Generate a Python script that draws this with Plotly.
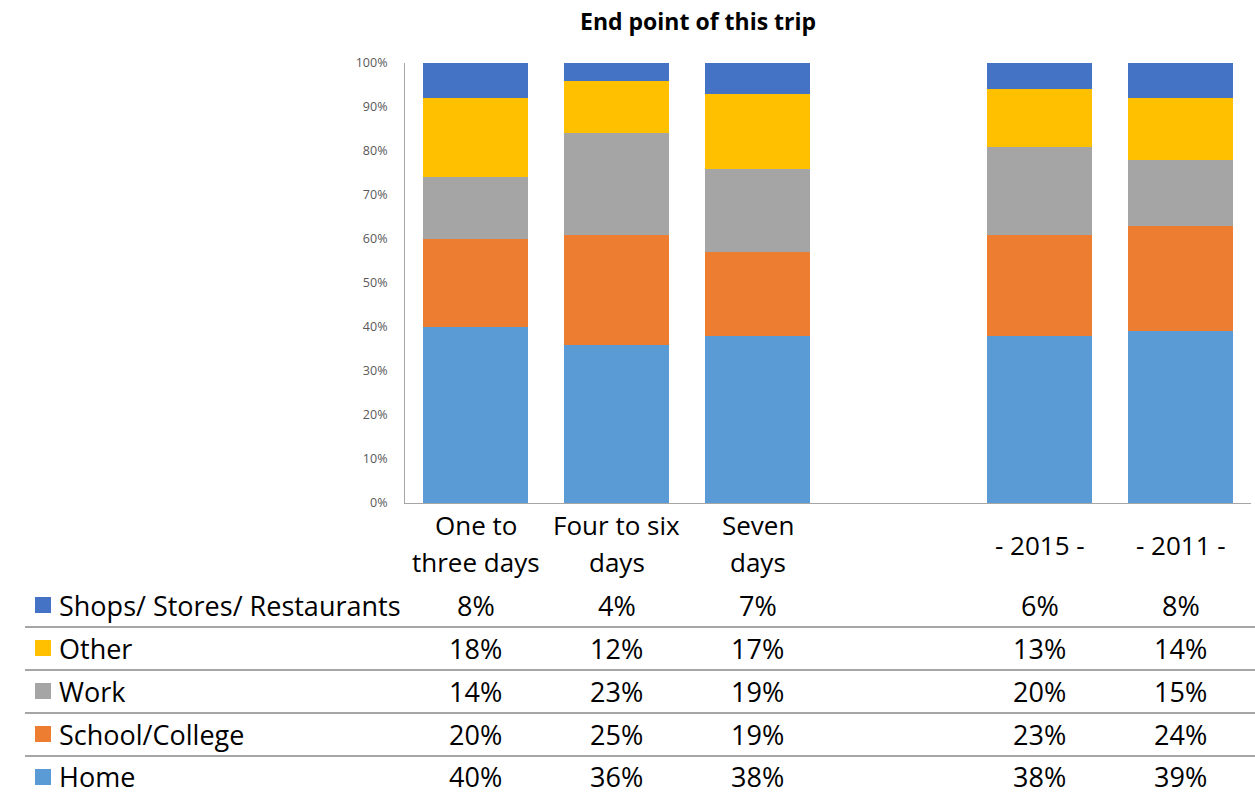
import plotly.graph_objects as go

# Trip end-point shares by category
categories = ["One to three days", "Four to six days", "Seven days", "gap", "- 2015 -", "- 2011 -"]
header_lines = [["One to", "three days"], ["Four to six", "days"], ["Seven", "days"], [], ["- 2015 -"], ["- 2011 -"]]

series_names = ["Home", "School/College", "Work", "Other", "Shops/ Stores/ Restaurants"]
home = [40, 36, 38, None, 38, 39]
school = [20, 25, 19, None, 23, 24]
work = [14, 23, 19, None, 20, 15]
other = [18, 12, 17, None, 13, 14]
shops = [8, 4, 7, None, 6, 8]
series_colors = ["#5B9BD5", "#ED7D31", "#A5A5A5", "#FFC000", "#4472C4"]

y_ticks = [0, 10, 20, 30, 40, 50, 60, 70, 80, 90, 100]

W, H = 1255, 803
L, R, T, B = 405, 4, 63, 300
PW, PH = W - L - R, H - T - B


def px(x):
    return (x - L) / PW


def py(y):
    return (H - B - y) / PH


FONT = "Open Sans"
all_series = [home, school, work, other, shops]

fig = go.Figure()
for name, vals, col in zip(series_names, all_series, series_colors):
    fig.add_trace(go.Bar(
        x=categories,
        y=[v / 100 if v is not None else None for v in vals],
        name=name,
        marker=dict(color=col, line=dict(width=0)),
        showlegend=False,
    ))

annotations = []
shapes = []

# Title
annotations.append(dict(
    text="<b>End point of this trip</b>", x=px(698), y=py(21), xref="paper", yref="paper",
    showarrow=False, font=dict(family=FONT, size=23, color="#000000"),
    xanchor="center", yanchor="middle",
))

# Column headers (one annotation per line for even line spacing)
for cat, lines in zip(categories, header_lines):
    if not lines:
        continue
    ys = [545] if len(lines) == 1 else [525, 562]
    for text, yy in zip(lines, ys):
        annotations.append(dict(
            text=text, x=cat, y=py(yy), xref="x", yref="paper", showarrow=False,
            font=dict(family=FONT, size=26, color="#000000"),
            xanchor="center", yanchor="middle", align="center",
        ))

# Data table rows, top to bottom
row_centers = [605, 648, 691, 734, 777]
row_order = list(range(len(series_names)))[::-1]
for rc, si in zip(row_centers, row_order):
    # legend key
    shapes.append(dict(
        type="rect", xref="paper", yref="paper",
        x0=px(35), x1=px(51), y0=py(rc - 8), y1=py(rc + 8),
        fillcolor=series_colors[si], line=dict(width=0),
    ))
    annotations.append(dict(
        text=series_names[si], x=px(57), y=py(rc), xref="paper", yref="paper",
        showarrow=False, font=dict(family=FONT, size=27, color="#000000"),
        xanchor="left", yanchor="middle",
    ))
    for cat, v in zip(categories, all_series[si]):
        if v is None:
            continue
        annotations.append(dict(
            text=f"{v}%", x=cat, y=py(rc), xref="x", yref="paper", showarrow=False,
            font=dict(family=FONT, size=27, color="#000000"),
            xanchor="center", yanchor="middle",
        ))

# Row separators
for ly in [627, 670, 713, 756]:
    shapes.append(dict(
        type="line", xref="paper", yref="paper",
        x0=px(25), x1=px(1255), y0=py(ly), y1=py(ly),
        line=dict(color="#A6A6A6", width=2),
    ))

fig.update_layout(
    width=W, height=H,
    margin=dict(l=L, r=R, t=T, b=B),
    barmode="stack",
    bargap=0.255,
    plot_bgcolor="white",
    paper_bgcolor="white",
    font=dict(family=FONT),
    annotations=annotations,
    shapes=shapes,
    xaxis=dict(
        showticklabels=False, ticks="", showgrid=False, zeroline=False,
        showline=True, linecolor="#A6A6A6", linewidth=1,
        categoryorder="array", categoryarray=categories,
    ),
    yaxis=dict(
        range=[0, 1], tickvals=[t / 100 for t in y_ticks], tickformat=".0%",
        showgrid=False, zeroline=False, showline=True, linecolor="#A6A6A6", linewidth=1,
        ticks="", tickfont=dict(family=FONT, size=12.5, color="#595959"), ticklabelstandoff=14,
    ),
)

fig.write_html("out.html")
